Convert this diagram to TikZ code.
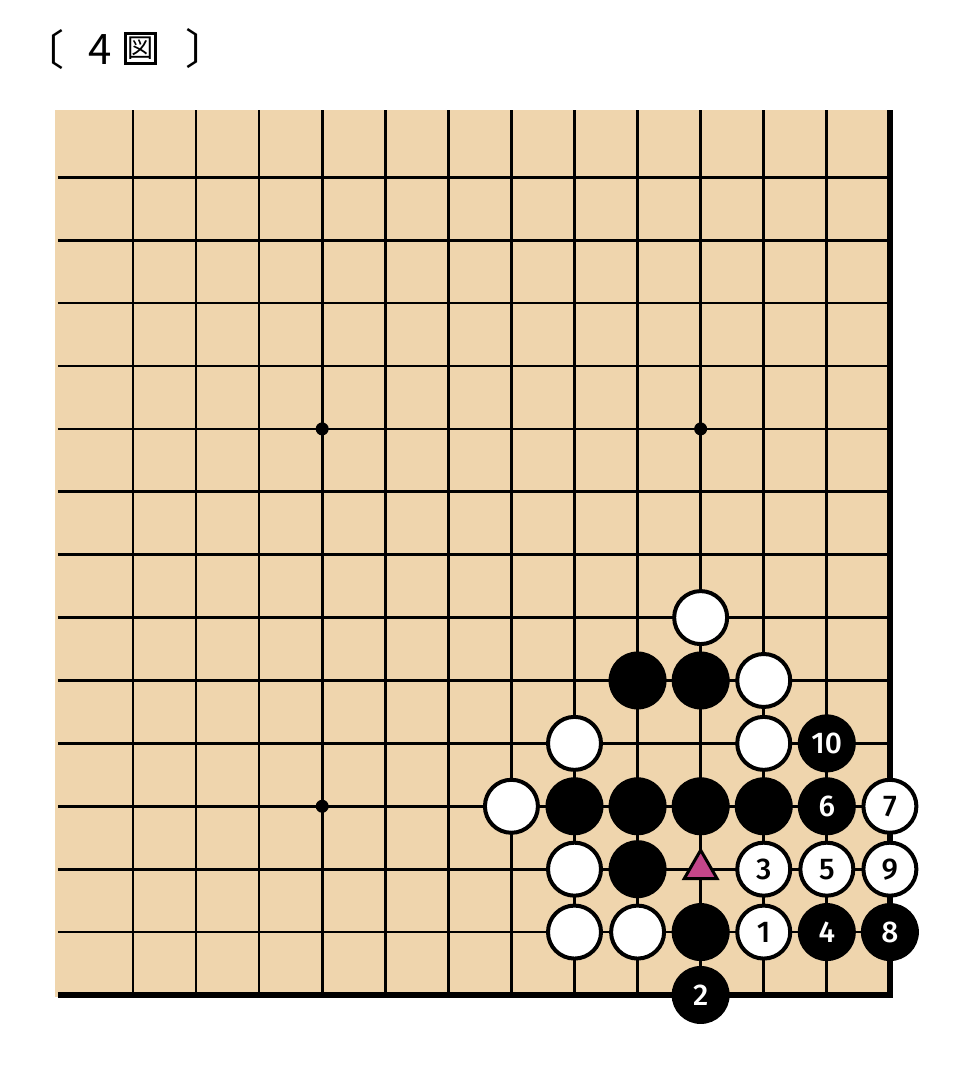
\documentclass[tikz,border=0pt]{standalone}
\usepackage{fontspec}
\newfontfamily\jpfont{Noto Sans CJK JP}
\newfontfamily\numfont{Fira Sans Medium}
\usepackage{tikz}
\usetikzlibrary{
    positioning,      % title pieces placed one after another
    shapes.geometric  % triangle mark
}
\definecolor{boardtan}{RGB}{239,213,173}
\definecolor{trimagenta}{RGB}{196,70,138}

\begin{document}
\begin{tikzpicture}[
    % one grid unit = one board line spacing
    x=31.54pt, y=31.45pt,
    % Board lines
    grid_line/.style={line width=1.35pt, color=black},
    edge_line/.style={line width=3pt, color=black},
    % Stones (numbers in a plain sans)
    stone_font/.style={font=\numfont\fontsize{15}{15}\selectfont},
    white_stone/.style={
        circle, draw=black, line width=2pt, fill=white,
        minimum size=26.5pt, inner sep=0pt, stone_font
    },
    black_stone/.style={
        circle, fill=black, text=white,
        minimum size=29pt, inner sep=0pt, stone_font
    },
    star_point/.style={circle, fill=black, minimum size=6.5pt, inner sep=0pt},
    % Marked point
    tri_mark/.style={
        regular polygon, regular polygon sides=3,
        draw=black, line width=1.5pt, fill=trimagenta,
        minimum size=19pt, inner sep=0pt
    },
    % Title
    title_text/.style={font=\jpfont\fontsize{21}{21}\selectfont, inner sep=0pt},
    node distance=0pt, on grid
]
    \useasboundingbox (-2.108,-1.161) rectangle (13.142,15.819);

    % 1. Board background and lines.
    \fill[boardtan] (-1.237,-0.03) rectangle (12.02,14.07);
    \foreach \r in {1,...,13}
        \draw[grid_line] (-1.19,\r) -- (12,\r);
    \foreach \c in {0,...,11}
        \draw[grid_line] (\c,0) -- (\c,14.07);
    \draw[edge_line] (-1.19,0) -- (12,0) -- (12,14.07);

    % 2. Star points.
    \foreach \c/\r [count=\i] in {3/9, 9/9, 3/3}
        \node[star_point] (star\i) at (\c,\r) {};

    % 3. Stones already on the board.
    \foreach \c/\r [count=\i] in {9/6, 10/5, 7/4, 10/4, 6/3, 7/2, 7/1, 8/1}
        \node[white_stone] (white\i) at (\c,\r) {};
    \foreach \c/\r [count=\i] in {8/5, 9/5, 7/3, 8/3, 9/3, 10/3, 8/2, 9/1}
        \node[black_stone] (black\i) at (\c,\r) {};
    \node[tri_mark] (marked) at (9,2) {};

    % 4. Numbered moves.
    \foreach \n/\c/\r in {1/10/1, 3/10/2, 5/11/2, 7/12/3, 9/12/2}
        \node[white_stone] (move\n) at (\c,\r) {\n};
    \foreach \n/\c/\r in {2/9/0, 4/11/1, 6/11/3, 8/12/1, 10/11/4}
        \node[black_stone] (move\n) at (\c,\r) {\n};

    % 5. Title.
    \node[title_text] (open_br) at (-1.42,15.03) {〔};
    \node[title_text, right=28.5pt of open_br] (fig_num) {4};
    \node[draw, line width=1.3pt, minimum size=15pt, inner sep=0pt,
          font=\jpfont\fontsize{13}{13}\selectfont, right=20pt of fig_num, yshift=0.5pt] (fig_word) {図};
    \node[title_text, right=33pt of fig_word] (close_br) {〕};
\end{tikzpicture}
\end{document}
